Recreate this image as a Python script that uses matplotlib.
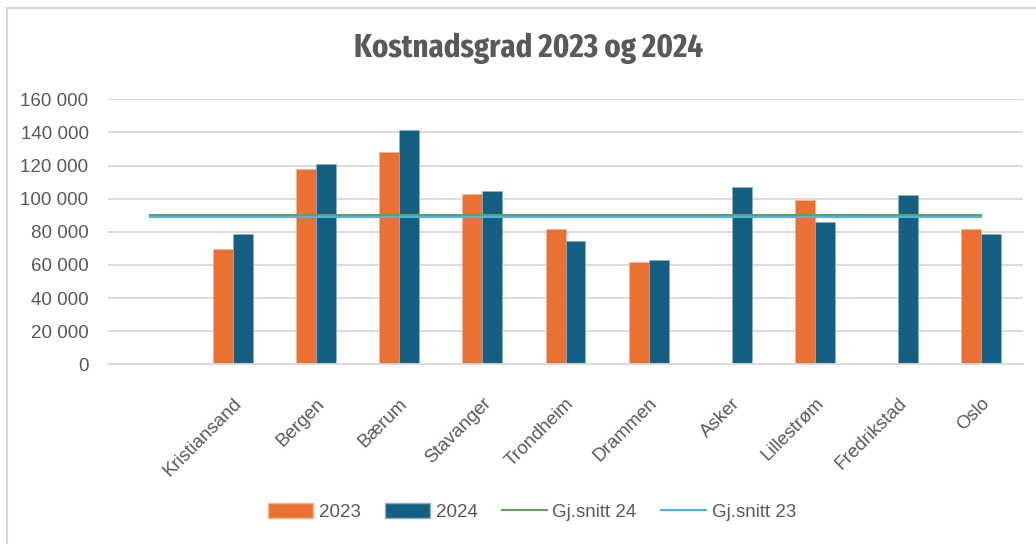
import matplotlib
matplotlib.use("Agg")
import matplotlib.pyplot as plt
import numpy as np
from matplotlib import font_manager
from matplotlib.font_manager import FontProperties
from matplotlib.ticker import FuncFormatter, MultipleLocator
from matplotlib.lines import Line2D
from matplotlib.patches import Patch

categories = ["", "Kristiansand", "Bergen", "Bærum", "Stavanger", "Trondheim",
              "Drammen", "Asker", "Lillestrøm", "Fredrikstad", "Oslo"]
values_2023 = [np.nan, 69500, 117700, 128000, 103000, 81500, 62000, np.nan, 99400, np.nan, 81900]
values_2024 = [np.nan, 78700, 121000, 141500, 104500, 74700, 62800, 107000, 85700, 102000, 78900]
snitt_24 = 90000
snitt_23 = 88800

C23 = "#E97132"
C24 = "#156082"
CG = "#5FA35A"
CC = "#4DB5E2"
TXT = "#595959"
GRID = "#D9D9D9"

# choose the most condensed bold face that is installed for the title
def score(f):
    nm = (f.fname + " " + f.name).lower().replace("-", "").replace(" ", "")
    if "italic" in nm or "oblique" in nm:
        return -1
    bold = ("bold" in nm and "semibold" not in nm and "extrabold" not in nm) or f.weight in ("bold", 700)
    s = 0
    if "extracondensed" in nm or "ultracondensed" in nm:
        s = 30
    elif "semicondensed" in nm:
        s = 10
    elif "condensed" in nm or "narrow" in nm:
        s = 20
    if s == 0:
        return -1
    return s + (5 if bold else 0)

cands = sorted(font_manager.fontManager.ttflist, key=score, reverse=True)
if cands and score(cands[0]) > 0:
    title_fp = FontProperties(fname=cands[0].fname)
else:
    title_fp = FontProperties(family="Roboto", weight="bold")

body_font = "Liberation Sans"

fig = plt.figure(figsize=(10.36, 5.44), dpi=100)
ax = fig.add_axes([108/1036, 1-364.3/544, (1023-108)/1036, (364.3-99.3)/544])

x = np.arange(len(categories))
w = 0.24
ax.bar(x - w/2, values_2023, width=w, color=C23, edgecolor="#F4B59A", linewidth=0.5, zorder=2)
ax.bar(x + w/2, values_2024, width=w, color=C24, edgecolor="#8FB0C4", linewidth=0.5, zorder=2)
ax.plot(x, [snitt_24]*len(x), color=CG, lw=1.5, zorder=3)
ax.plot(x, [snitt_23]*len(x), color=CC, lw=1.5, zorder=3)

ax.set_xlim(-0.5, len(categories) - 0.5)
ax.set_ylim(0, 160000)
ax.yaxis.set_major_locator(MultipleLocator(20000))
ax.yaxis.set_major_formatter(FuncFormatter(lambda v, p: f"{int(v):,}".replace(",", " ")))
ax.grid(axis="y", color=GRID, lw=1.3, zorder=0)
ax.set_axisbelow(True)
for s in ["left", "right", "top"]:
    ax.spines[s].set_visible(False)
ax.spines["bottom"].set_color(GRID)
ax.spines["bottom"].set_linewidth(1.3)
ax.tick_params(axis="y", length=0, pad=14, labelsize=13.5, labelcolor=TXT)
ax.tick_params(axis="x", length=0, pad=22, labelsize=13.5, labelcolor=TXT)
ax.set_xticks(x)
ax.set_xticklabels(categories, rotation=45, ha="right", rotation_mode="anchor")
for lab in ax.get_xticklabels() + ax.get_yticklabels():
    lab.set_fontfamily(body_font)

# title: fit its width to the reference (about 358 px), size capped
title_fp.set_size(24)
t = fig.text(529/1036, 1-48/544, "Kostnadsgrad 2023 og 2024", ha="center", va="center",
             color=TXT, fontproperties=title_fp)
fig.canvas.draw()
wpx = t.get_window_extent().width
new_size = min(24, 24 * 358 / wpx)
title_fp.set_size(new_size)
t.set_fontproperties(title_fp)

handles = [Patch(facecolor=C23, edgecolor="#F4B59A"), Patch(facecolor=C24, edgecolor="#8FB0C4"),
           Line2D([], [], color=CG, lw=1.5), Line2D([], [], color=CC, lw=1.5)]
labels = ["2023", "2024", "Gj.snitt 24", "Gj.snitt 23"]
fig.legend(handles, labels, loc="center", bbox_to_anchor=(532/1036, 1-512/544), ncol=4,
           frameon=False, prop={"family": body_font, "size": 13.5}, labelcolor=TXT,
           handlelength=2.4, handleheight=0.85, handletextpad=0.3, columnspacing=1.3)

fig.add_artist(Line2D([7/1036, 1], [1-8/544, 1-8/544], color=GRID, lw=1.5, transform=fig.transFigure))
fig.add_artist(Line2D([7/1036, 7/1036], [0, 1-8/544], color=GRID, lw=1.5, transform=fig.transFigure))

fig.savefig("out.png", dpi=100, facecolor="white")
